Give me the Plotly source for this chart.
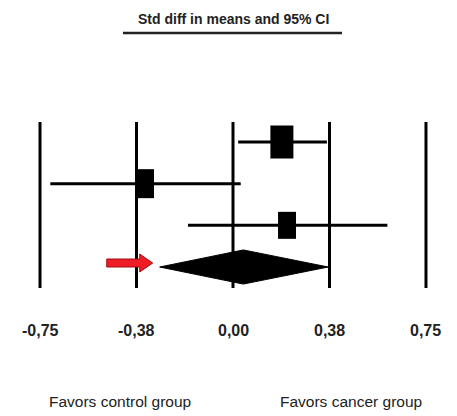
import plotly.graph_objects as go

# ---- data ----
studies = ["Study 1", "Study 2", "Study 3"]
effect = [0.19, -0.34, 0.21]
ci_low = [0.02, -0.71, -0.175]
ci_high = [0.365, 0.03, 0.60]
square_w = [23, 17, 18]
square_h = [33, 29, 27]

summary_effect = 0.04
summary_low = -0.285
summary_high = 0.37

tick_vals = [-0.75, -0.375, 0.0, 0.375, 0.75]
tick_text = ["-0,75", "-0,38", "0,00", "0,38", "0,75"]

title_text = "Std diff in means and 95% CI"
favors_left = "Favors control group"
favors_right = "Favors cancer group"

# page body has an 8px margin; the figure is sized so it fills the window
OFF = 8
WIN_W, WIN_H = 457, 416
W, H = WIN_W - OFF, WIN_H - OFF
FONT = "Liberation Sans, Arial, sans-serif"

x0_px, x_scale = 233.0 - OFF, 257.3      # x=0 at 233px (window), px per unit
row1_px, row_step = 142.0 - OFF, 41.67   # row 1 at 142px (window)
def row_at(p_win):
    return 1 + ((p_win - OFF) - row1_px) / row_step
def py(p_win):
    return 1 - (p_win - OFF) / H
def px(p_win):
    return (p_win - OFF) / W

x_range = [(0 - x0_px) / x_scale, (W - x0_px) / x_scale]
y_range = [1 + (H - row1_px) / row_step, 1 + (0 - row1_px) / row_step]

fig = go.Figure()

# CI lines
for i, s in enumerate(studies):
    fig.add_trace(go.Scatter(x=[ci_low[i], ci_high[i]], y=[i + 1, i + 1], mode="lines",
                             line=dict(color="black", width=3), hoverinfo="skip", showlegend=False))

# summary diamond
n = len(studies) + 1
dh = 0.41
fig.add_trace(go.Scatter(x=[summary_low, summary_effect, summary_high, summary_effect, summary_low],
                         y=[n, n - dh, n, n + dh, n], mode="lines", fill="toself",
                         fillcolor="black", line=dict(color="black", width=1),
                         hoverinfo="skip", showlegend=False))

shapes = []
# vertical reference lines
for tv in tick_vals:
    shapes.append(dict(type="line", xref="x", yref="y", x0=tv, x1=tv,
                       y0=row_at(122), y1=row_at(288), line=dict(color="black", width=3), layer="below"))
# squares
for i in range(len(studies)):
    shapes.append(dict(type="rect", xref="x", yref="y", xsizemode="pixel", ysizemode="pixel",
                       xanchor=effect[i], yanchor=i + 1,
                       x0=-square_w[i] / 2, x1=square_w[i] / 2, y0=-square_h[i] / 2, y1=square_h[i] / 2,
                       fillcolor="black", line=dict(width=0)))
# red arrow pointing at the diamond
shapes.append(dict(type="path", xref="x", yref="y", xsizemode="pixel", ysizemode="pixel",
                   xanchor=summary_low - 0.027, yanchor=row_at(263),
                   path="M -46,-4 L -13,-4 L -13,-9 L 0,0 L -13,9 L -13,4 L -46,4 Z",
                   fillcolor="#ee1c25", line=dict(color="#a01010", width=1)))
# title underline
shapes.append(dict(type="line", xref="paper", yref="paper", x0=px(123), x1=px(342),
                   y0=py(33), y1=py(33), line=dict(color="#222222", width=2.5)))

annotations = []
annotations.append(dict(text="<b>" + title_text + "</b>", x=0, xref="x", y=py(19), yref="paper",
                        showarrow=False, xanchor="center", yanchor="middle",
                        font=dict(family=FONT, size=14, color="#222222")))
for tv, tt in zip(tick_vals, tick_text):
    annotations.append(dict(text="<b>" + tt + "</b>", x=tv, xref="x", y=row_at(330), yref="y",
                            showarrow=False, xanchor="center", yanchor="middle",
                            font=dict(family=FONT, size=16, color="#222222")))
annotations.append(dict(text=favors_left, x=px(120), xref="paper", y=py(401), yref="paper",
                        showarrow=False, xanchor="center", yanchor="middle",
                        font=dict(family=FONT, size=15.5, color="#222222")))
annotations.append(dict(text=favors_right, x=px(351), xref="paper", y=py(401), yref="paper",
                        showarrow=False, xanchor="center", yanchor="middle",
                        font=dict(family=FONT, size=15.5, color="#222222")))

fig.update_layout(
    width=W, height=H, margin=dict(l=0, r=0, t=0, b=0),
    paper_bgcolor="white", plot_bgcolor="white",
    xaxis=dict(range=x_range, visible=False, domain=[0, 1], fixedrange=True),
    yaxis=dict(range=y_range, visible=False, domain=[0, 1], fixedrange=True),
    shapes=shapes, annotations=annotations, showlegend=False,
)

fig.write_html("out.html")
